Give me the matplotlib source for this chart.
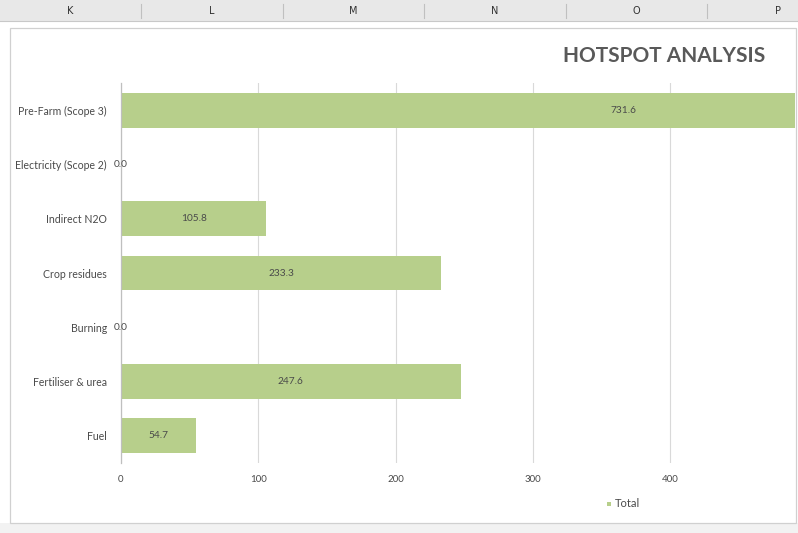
import matplotlib
matplotlib.use("Agg")
import matplotlib.pyplot as plt
from matplotlib.patches import Rectangle
from matplotlib.lines import Line2D

categories = ["Pre-Farm (Scope 3)", "Electricity (Scope 2)", "Indirect N2O",
              "Crop residues", "Burning", "Fertiliser & urea", "Fuel"]
totals = [731.6, 0.0, 105.8, 233.3, 0.0, 247.6, 54.7]
x_ticks = [0, 100, 200, 300, 400]
columns = ["K", "L", "M", "N", "O", "P"]

W, H = 798, 533
fig = plt.figure(figsize=(W / 100, H / 100), dpi=100)
fig.patch.set_facecolor("white")
plt.rcParams["font.family"] = ["Lato", "DejaVu Sans"]

def fx(px):
    return px / W

def fy(py):
    return 1 - py / H

# spreadsheet column header strip
fig.patches.append(Rectangle((0, fy(21)), 1, 21 / H, transform=fig.transFigure,
                             facecolor="#e8e8e8", edgecolor="none", zorder=0))
fig.add_artist(Line2D([0, 1], [fy(21), fy(21)], transform=fig.transFigure,
                      color="#c8c8c8", lw=0.8))
col_w = 141.5
for i, c in enumerate(columns):
    cx = -0.5 + col_w * (i + 0.5)
    fig.text(fx(cx), fy(10.5), c, ha="center", va="center", fontsize=7,
             color="#333333", family="DejaVu Sans")
    sep = -0.5 + col_w * (i + 1)
    if sep < W - 2:
        fig.add_artist(Line2D([fx(sep), fx(sep)], [fy(4), fy(18)],
                              transform=fig.transFigure, color="#c0c0c0", lw=0.8))

# light grey area below the chart
fig.patches.append(Rectangle((0, 0), 1, 10 / H, transform=fig.transFigure,
                             facecolor="#f2f2f2", edgecolor="none", zorder=0))

# chart frame
fig.patches.append(Rectangle((fx(10), fy(523)), fx(786), (523 - 28) / H,
                             transform=fig.transFigure, facecolor="white",
                             edgecolor="#d0d0d0", lw=0.9, zorder=0.5))

ax = fig.add_axes([fx(121), fy(463), fx(795 - 121), (463 - 83) / H])
ax.set_zorder(2)
ax.set_facecolor("none")
px_per_unit = (670 - 121) / 400
ax.set_xlim(0, (795 - 121) / px_per_unit)
ypos = list(range(len(categories)))
ax.set_ylim(len(categories) - 0.5, -0.5)

ax.barh(ypos, totals, height=0.64, color="#b7cf8b", zorder=2)

# value labels centred on each bar (zero-length bars centre on the axis)
for y, v in zip(ypos, totals):
    ax.text(v / 2, y, f"{v:.1f}", ha="center", va="center",
            fontsize=7.3, color="#4a4a4a", zorder=3)

ax.set_yticks(ypos)
ax.set_yticklabels(categories, fontsize=7.6, color="#4a4a4a")
ax.set_xticks(x_ticks)
ax.set_xticklabels([str(t) for t in x_ticks], fontsize=7, color="#4a4a4a")
ax.tick_params(axis="both", length=0)
ax.tick_params(axis="y", pad=10)
ax.tick_params(axis="x", pad=9)
ax.grid(axis="x", color="#d9d9d9", lw=0.8, zorder=0)
ax.set_axisbelow(True)
for s in ["top", "right", "bottom"]:
    ax.spines[s].set_visible(False)
ax.spines["left"].set_color("#bfbfbf")
ax.spines["left"].set_linewidth(0.9)

fig.text(fx(765), fy(56), "HOTSPOT ANALYSIS", ha="right", va="center",
         fontsize=15, fontweight="bold", color="#595959")

# legend
fig.patches.append(Rectangle((fx(607), fy(505.5)), 4 / W, 4 / H,
                             transform=fig.transFigure, facecolor="#b7cf8b",
                             edgecolor="none", zorder=3))
fig.text(fx(615), fy(503.5), "Total", ha="left", va="center", fontsize=8,
         color="#4a4a4a")

fig.savefig("out.png", dpi=100)
